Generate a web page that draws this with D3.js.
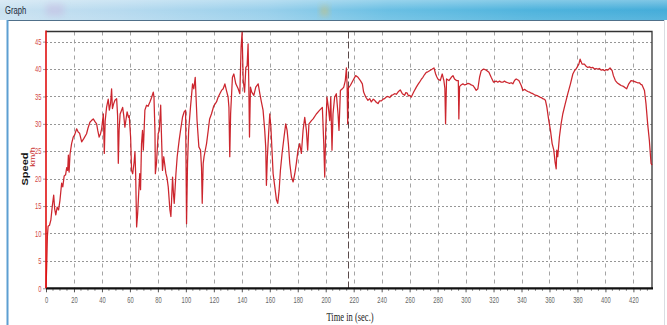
<!DOCTYPE html>
<html>
<head>
<meta charset="utf-8">
<script src="https://cdn.jsdelivr.net/npm/d3@7"></script>
<style>
  html, body { margin: 0; padding: 0; background: #fff; }
  svg { display: block; }
</style>
</head>
<body>
<svg id="chart" width="667" height="325"></svg>
<script>
// Speed trace: time (s) and speed (km/h)
const times = [
  0, 0.5, 1, 1.5, 2.5, 3.5, 4.5, 5.5, 6.2, 7, 8, 9, 10, 11.2, 12, 13, 14, 14.8, 15.5, 16,
  16.5, 17.2, 18.3, 19.5, 20.5, 21.9, 23, 24, 25.5, 27, 29, 30, 31.4, 32.5, 33.8, 35, 36.2, 37, 38, 39,
  39.8, 41, 41.7, 42.3, 43.3, 44.5, 45.3, 46.2, 46.9, 47.5, 48.3, 49.3, 50.5, 51.2, 51.7, 52.3, 53, 54.8, 55.6, 56.4,
  57.2, 58, 59, 59.5, 60.5, 61.2, 62, 63, 63.6, 64.1, 64.8, 65.5, 66, 67, 67.6, 68.3, 69, 69.6, 70.7, 71.9,
  73, 74.3, 75.5, 76.7, 77.2, 77.9, 78.2, 79, 80.2, 81, 82, 82.5, 83.3, 84.2, 85.7, 86.5, 87.4, 88.6, 89.3, 90.5,
  91.2, 91.7, 92.9, 93.8, 95.2, 96.2, 97.6, 98.8, 99.8, 100.5, 101.2, 102, 103.3, 104.8, 105.7, 106.7, 107.6, 108, 109.3, 110.5,
  111.2, 111.7, 112.4, 113, 114.8, 116, 117, 118.3, 120, 121.9, 123, 124.3, 125.5, 126.7, 127.9, 129, 130.2, 130.8, 131.4, 132,
  133.3, 134.3, 135.7, 137.4, 138.6, 139.5, 140.2, 141, 142, 142.9, 143.8, 144.5, 145, 145.5, 146.2, 147.1, 148.6, 150, 151.7, 152.9,
  154, 155.2, 156.4, 157.1, 157.6, 158.3, 159.3, 160, 160.8, 161.7, 162.4, 163.6, 164.8, 165.7, 166.7, 167.6, 168.8, 170.2, 171.4, 172.4,
  173.3, 174.3, 175.5, 176.7, 177.9, 179, 180.2, 181.4, 182.6, 183.8, 185, 186.2, 187.1, 188, 189.8, 191, 193.3, 195.7, 197.6, 198.6,
  199.3, 200, 200.9, 201.9, 202.9, 203.6, 204.5, 205.2, 206.4, 207.6, 208.8, 209.5, 210.5, 211.9, 212.9, 214, 214.8, 215.3, 215.7, 216.2,
  217.6, 219.5, 221.4, 223.1, 224.8, 226.2, 227.1, 228.6, 230.2, 231.5, 232.6, 234, 235, 236.3, 237.4, 238.5, 239.8, 241, 242.1, 243.3,
  244.5, 245.8, 246.9, 248, 249.3, 250.5, 251.7, 253.3, 254.8, 256.4, 257.3, 258.3, 259.2, 260, 261.2, 262.9, 264.8, 266, 267.1, 268.3,
  269.5, 270.7, 271.9, 273, 274.3, 276.2, 277.4, 278.6, 279.4, 280.2, 281.9, 283.3, 284.5, 285.2, 285.7, 286.4, 288.1, 289.8, 291, 292.1,
  293.5, 294.8, 295.2, 295.7, 296.8, 298.1, 299.3, 300.5, 301.7, 302.9, 304, 305.2, 306.4, 307.6, 308.8, 310, 311.2, 312.9, 314.8, 316.7,
  318.3, 320, 321.9, 323, 324.3, 325.5, 326.7, 327.8, 329, 330.2, 331.4, 332.6, 333.8, 335, 336.2, 338.1, 339.8, 341, 342.2, 343.3,
  344.5, 345.7, 347, 348.1, 349.3, 350.5, 351.7, 352.9, 354, 355.2, 356.2, 357.1, 358.1, 359.5, 360.7, 361.9, 363.1, 364, 364.8, 365.2,
  365.9, 367.1, 368.3, 369.5, 371.2, 373.1, 375, 376.7, 377.9, 379, 381, 381.9, 383.3, 385, 386.2, 387.4, 388.6, 389.8, 391, 392.1,
  393.3, 394.5, 395.7, 396.9, 398.1, 399.3, 400.5, 401.7, 403.3, 404.8, 405.7, 407.1, 408.8, 410, 411.2, 412.4, 413.6, 415.2, 416.7, 418.3,
  420, 421.9, 423, 424.3, 425.3, 426.2, 427.9, 429, 430.2, 431.4, 432.6, 433.3
];
const speeds = [
  0, 4, 9.5, 11.3, 11.5, 12.5, 15, 17, 14.5, 13.4, 14.8, 14.3, 16.1, 19.2, 18.5, 20.5, 20.7, 22, 21.5, 24.3,
  21.2, 24.5, 26.4, 27.6, 28, 29.1, 28.5, 28.3, 26.7, 27.3, 28.2, 29.2, 30.3, 30.6, 30.9, 30.4, 30, 28.8, 27.6, 28.2,
  29.1, 31.8, 24.6, 30.5, 33, 34.5, 32.5, 33.8, 36.4, 32.8, 33.6, 34.3, 34.6, 31.5, 22.8, 29, 31.8, 33, 31.5, 29.4,
  30.8, 32.2, 31.2, 31.5, 27.6, 21.5, 20.9, 23, 24.9, 20.9, 11.2, 13.5, 16, 20.9, 18, 26.4, 28.8, 25.2, 32.5, 33.4,
  33.2, 34, 34.8, 35.8, 34.9, 28.8, 20.9, 22.8, 28.2, 28.8, 33.4, 28.5, 21.5, 24, 21, 20.2, 18.5, 14.3, 13.1, 20.3,
  17, 15.5, 20.9, 24, 27, 28.8, 31.2, 32.2, 32.5, 11.8, 22.8, 28.8, 33, 37.3, 36.4, 38.5, 33, 30.6, 25.8, 25.2,
  22, 15.5, 22.8, 24, 26.4, 28.8, 30.9, 31.8, 33.3, 34, 34.8, 35.5, 36.1, 36.4, 37.3, 36.1, 34.9, 33, 24, 31.8,
  38.5, 39.1, 37.3, 36.4, 35.5, 44, 46.7, 38, 35.8, 40.3, 40.6, 44.6, 37.3, 27.6, 36.7, 35.8, 35.2, 36.7, 37.3, 35.5,
  34, 32.5, 28.8, 25.8, 18.8, 24, 28.8, 31.8, 29.4, 24.6, 20.9, 18.5, 16.1, 15.5, 17.9, 21.5, 24.6, 27.6, 30, 28.8,
  26.4, 22.8, 20.3, 19.4, 20.9, 22.8, 25.2, 26.4, 24.6, 28.8, 31.2, 28.8, 25.2, 30, 30.6, 30.9, 31.8, 32.5, 33, 26.4,
  20.3, 28.8, 34.9, 33, 30.6, 34.9, 25.2, 31.8, 34.9, 35.5, 31.8, 28.8, 36.1, 36.4, 36.7, 37.9, 40.2, 37, 30, 36.5,
  37, 37.9, 38.8, 38.5, 37.9, 37.3, 35.8, 34.9, 34.3, 34.6, 34, 34.5, 34.3, 33.9, 33.7, 34.2, 34.2, 34.5, 34.6, 34.9,
  35, 34.8, 35.2, 35.3, 35.5, 35.4, 35.8, 36.2, 35.5, 35.2, 35.7, 35.6, 35.1, 35.2, 34.9, 35.8, 36.7, 37.2, 37.6, 38.1,
  38.5, 39, 39.4, 39.5, 39.7, 40, 40.2, 39.1, 38.6, 38.2, 37.9, 39.1, 37.9, 36.5, 30, 38.2, 37.9, 38.5, 38.8, 38.2,
  37.9, 37.9, 30.9, 36.8, 37.1, 37.3, 37.1, 37.2, 37.4, 37.3, 37.1, 37, 36.6, 36.1, 36.4, 38.5, 39.7, 40, 39.8, 39.4,
  38.5, 37.6, 37.8, 37.6, 37.8, 37.6, 37.6, 37.8, 37.6, 37.5, 37.4, 37.5, 37.3, 37.9, 38.2, 37.9, 37, 36.1, 36.3, 36.1,
  35.9, 35.8, 35.6, 35.5, 35.3, 35.2, 35.1, 34.9, 34.8, 34.6, 34.5, 34.3, 33.1, 30.6, 28.8, 26.4, 25.2, 23, 21.8, 25.2,
  24, 27.6, 30, 31.8, 33.6, 35.5, 37.3, 39.1, 39.7, 40, 40.9, 41.8, 40.9, 40.9, 40.5, 40.3, 40.4, 40.2, 40.3, 40,
  40.1, 40, 40.1, 39.8, 39.9, 39.7, 39.9, 39.8, 40.2, 39.7, 38.8, 37.9, 37.4, 37.2, 37, 36.9, 36.7, 36.4, 37.3, 37.9,
  37.8, 37.6, 37.5, 37.5, 37.2, 37.1, 36.1, 33.7, 30, 27, 22.8, 22.5
];

const xTicks = [0, 20, 40, 60, 80, 100, 120, 140, 160, 180, 200, 220, 240, 260, 280, 300, 320, 340, 360, 380, 400, 420];
const xMinorTicks = d3.range(0, 435, 5);
const yTicks = [0, 5, 10, 15, 20, 25, 30, 35, 40, 45];
const markerTime = 216;
const xMax = 433.3;
const yMax = 46.85;

const windowTitle = "Graph";
const yTitle = "Speed";
const yUnit = "km/h";
const xTitle = "Time in (sec.)";

const svg = d3.select("#chart");
const W = 667, H = 325;
const squeeze = 0.68;   // the window renders its text horizontally condensed

// ---- window chrome ----
const defs = svg.append("defs");
const tg = defs.append("linearGradient").attr("id", "titleGrad").attr("x1", "0").attr("x2", "1").attr("y1", "0").attr("y2", "0");
[["0%", "#c7e0f0"], ["18%", "#b3d8ee"], ["40%", "#93cdea"], ["58%", "#62bce2"], ["80%", "#45afdb"], ["100%", "#3ba8d7"]]
  .forEach(([o, c]) => tg.append("stop").attr("offset", o).attr("stop-color", c));
const tv = defs.append("linearGradient").attr("id", "titleShine").attr("x1", "0").attr("x2", "0").attr("y1", "0").attr("y2", "1");
[["0%", "rgba(255,255,255,0.35)"], ["50%", "rgba(255,255,255,0.05)"], ["100%", "rgba(255,255,255,0.15)"]]
  .forEach(([o, c]) => tv.append("stop").attr("offset", o).attr("stop-color", c));
const blur = defs.append("filter").attr("id", "soft").attr("x", "-50%").attr("y", "-50%").attr("width", "200%").attr("height", "200%");
blur.append("feGaussianBlur").attr("stdDeviation", 3);

svg.append("rect").attr("x", 0).attr("y", 0).attr("width", W).attr("height", 20).attr("fill", "url(#titleGrad)");
svg.append("rect").attr("x", 0).attr("y", 0).attr("width", W).attr("height", 20).attr("fill", "url(#titleShine)");
svg.append("rect").attr("x", 46).attr("y", 4).attr("width", 18).attr("height", 12).attr("fill", "rgba(200,175,220,0.4)").attr("filter", "url(#soft)");
svg.append("rect").attr("x", 321).attr("y", 6).attr("width", 7).attr("height", 10).attr("fill", "rgba(230,190,80,0.5)").attr("filter", "url(#soft)");
svg.append("text")
  .attr("transform", `translate(5,14) scale(${squeeze + 0.05},1)`)
  .attr("font-family", "Liberation Sans, Arial, sans-serif")
  .attr("font-size", 10.5).attr("fill", "#1a2a3a").text(windowTitle);

svg.append("rect").attr("x", 7).attr("y", 20).attr("width", W - 10).attr("height", H - 20).attr("fill", "#fff");
svg.append("line").attr("x1", 7).attr("x2", W - 3).attr("y1", 20.5).attr("y2", 20.5).attr("stroke", "#50708a").attr("stroke-width", 1);
svg.append("line").attr("x1", 7.5).attr("x2", 7.5).attr("y1", 20).attr("y2", H).attr("stroke", "#5d9fd2").attr("stroke-width", 2);
svg.append("line").attr("x1", 664.5).attr("x2", 664.5).attr("y1", 20).attr("y2", H).attr("stroke", "#d9dde2").attr("stroke-width", 1);

// ---- plot area ----
const pLeft = 46, pRight = 652, pTop = 31.5, pBottom = 288.3;
const x = d3.scaleLinear().domain([0, xMax]).range([pLeft, pRight]);
const y = d3.scaleLinear().domain([0, yMax]).range([pBottom, pTop]);

const g = svg.append("g");

// grid
g.append("g").selectAll("line").data(yTicks.filter(d => d > 0)).join("line")
  .attr("x1", pLeft).attr("x2", pRight)
  .attr("y1", d => Math.round(y(d)) + 0.5).attr("y2", d => Math.round(y(d)) + 0.5)
  .attr("stroke", "#8a8a8a").attr("stroke-width", 0.9).attr("stroke-dasharray", "2,2");
g.append("g").selectAll("line").data(xTicks.filter(d => d > 0)).join("line")
  .attr("x1", d => Math.round(x(d)) + 0.5).attr("x2", d => Math.round(x(d)) + 0.5)
  .attr("y1", pTop).attr("y2", pBottom)
  .attr("stroke", "#9a9a9a").attr("stroke-width", 0.9).attr("stroke-dasharray", "4,4");

// time marker
g.append("line")
  .attr("x1", Math.round(x(markerTime)) + 0.5).attr("x2", Math.round(x(markerTime)) + 0.5)
  .attr("y1", pTop).attr("y2", pBottom)
  .attr("stroke", "#5a4a4a").attr("stroke-width", 1).attr("stroke-dasharray", "7,3");

// frame (top and right)
g.append("path")
  .attr("d", `M${pLeft},${pTop}H${pRight}V${pBottom}`)
  .attr("fill", "none").attr("stroke", "#333").attr("stroke-width", 1.3);

// speed trace
const line = d3.line().x((d, i) => x(times[i])).y(d => y(d));
g.append("path").datum(speeds)
  .attr("d", line)
  .attr("fill", "none")
  .attr("stroke", "#c8141c")
  .attr("stroke-width", 1.25)
  .attr("stroke-linejoin", "round")
  .attr("stroke-opacity", 0.92);

// x axis
const xAxis = d3.axisBottom(x).tickValues(xTicks).tickSize(4).tickPadding(5).tickFormat(d3.format("d"));
const xa = g.append("g").attr("transform", `translate(0,${pBottom})`).call(xAxis);
xa.select(".domain").remove();
xa.selectAll(".tick line").attr("stroke", "#555");
xa.selectAll(".tick text")
  .attr("font-family", "Liberation Sans, Arial, sans-serif")
  .attr("font-size", 8.5).attr("fill", "#666")
  .attr("transform", `scale(${squeeze},1)`);
g.append("g").selectAll("line").data(xMinorTicks.filter(d => d % 20 !== 0)).join("line")
  .attr("x1", d => x(d)).attr("x2", d => x(d)).attr("y1", pBottom).attr("y2", pBottom + 2.5)
  .attr("stroke", "#666").attr("stroke-width", 0.8);
g.append("line").attr("x1", pLeft).attr("x2", pRight + 1).attr("y1", pBottom).attr("y2", pBottom)
  .attr("stroke", "#111").attr("stroke-width", 2.2);

// y axis
const yAxis = d3.axisLeft(y).tickValues(yTicks).tickSize(3).tickPadding(2).tickFormat(d3.format("d"));
const ya = g.append("g").attr("transform", `translate(${pLeft},0)`).call(yAxis);
ya.select(".domain").remove();
ya.selectAll(".tick line").attr("stroke", "#999");
ya.selectAll(".tick text")
  .attr("font-family", "Liberation Sans, Arial, sans-serif")
  .attr("font-size", 8.5).attr("fill", "#d24848")
  .attr("x", -4.5 / squeeze)
  .attr("transform", `scale(${squeeze},1)`);
g.append("line").attr("x1", pLeft).attr("x2", pLeft).attr("y1", pTop - 1).attr("y2", pBottom)
  .attr("stroke", "#e01010").attr("stroke-width", 1.6);

// axis titles
svg.append("text")
  .attr("transform", `translate(28,169) scale(0.8,1) rotate(-90)`)
  .attr("text-anchor", "middle")
  .attr("font-family", "Liberation Sans, Arial, sans-serif")
  .attr("font-size", 11).attr("font-weight", "bold").attr("fill", "#111")
  .text(yTitle);
svg.append("text")
  .attr("transform", `translate(34.5,157) scale(0.8,1) rotate(-90)`)
  .attr("text-anchor", "middle")
  .attr("font-family", "Liberation Sans, Arial, sans-serif")
  .attr("font-size", 9).attr("fill", "#c83030")
  .text(yUnit);
svg.append("text")
  .attr("transform", `translate(350,321) scale(0.74,1)`)
  .attr("text-anchor", "middle")
  .attr("font-family", "Liberation Serif, Times New Roman, serif")
  .attr("font-size", 11.5).attr("fill", "#222")
  .text(xTitle);
</script>
</body>
</html>
